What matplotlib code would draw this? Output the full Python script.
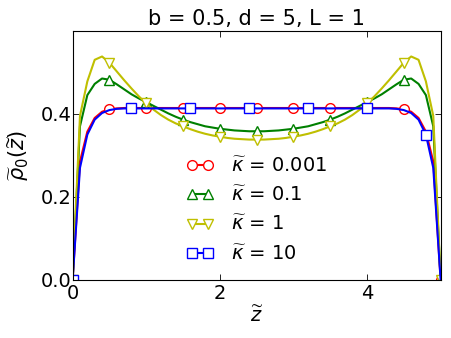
import numpy as np
import matplotlib
matplotlib.use("Agg")
import matplotlib.pyplot as plt

z = [0.0, 0.1, 0.2, 0.3, 0.4, 0.5, 0.6, 0.7, 0.8, 0.9,
     1.0, 1.1, 1.2, 1.3, 1.4, 1.5, 1.6, 1.7, 1.8, 1.9,
     2.0, 2.1, 2.2, 2.3, 2.4, 2.5, 2.6, 2.7, 2.8, 2.9,
     3.0, 3.1, 3.2, 3.3, 3.4, 3.5, 3.6, 3.7, 3.8, 3.9,
     4.0, 4.1, 4.2, 4.3, 4.4, 4.5, 4.6, 4.7, 4.8, 4.9, 5.0]

rho_k0001 = [0.000, 0.285, 0.357, 0.390, 0.405, 0.411, 0.413, 0.414, 0.414, 0.414,
             0.414, 0.414, 0.414, 0.414, 0.414, 0.414, 0.414, 0.414, 0.414, 0.414,
             0.414, 0.414, 0.414, 0.414, 0.414, 0.414, 0.414, 0.414, 0.414, 0.414,
             0.414, 0.414, 0.414, 0.414, 0.414, 0.414, 0.414, 0.414, 0.414, 0.414,
             0.414, 0.414, 0.414, 0.414, 0.413, 0.411, 0.405, 0.390, 0.357, 0.285, 0.000]

rho_k01 = [0.000, 0.370, 0.445, 0.472, 0.485, 0.482, 0.471, 0.459, 0.447, 0.437,
           0.428, 0.419, 0.410, 0.401, 0.393, 0.386, 0.380, 0.375, 0.370, 0.367,
           0.364, 0.362, 0.360, 0.359, 0.358, 0.358, 0.358, 0.359, 0.360, 0.362,
           0.364, 0.367, 0.370, 0.375, 0.380, 0.386, 0.393, 0.401, 0.410, 0.419,
           0.428, 0.437, 0.447, 0.459, 0.471, 0.482, 0.485, 0.472, 0.445, 0.370, 0.000]

rho_k1 = [0.000, 0.395, 0.478, 0.530, 0.538, 0.523, 0.502, 0.481, 0.461, 0.442,
          0.425, 0.410, 0.397, 0.386, 0.377, 0.370, 0.363, 0.357, 0.352, 0.348,
          0.345, 0.342, 0.340, 0.339, 0.338, 0.338, 0.338, 0.339, 0.340, 0.342,
          0.345, 0.348, 0.352, 0.357, 0.363, 0.370, 0.377, 0.386, 0.397, 0.410,
          0.425, 0.442, 0.461, 0.481, 0.502, 0.523, 0.538, 0.530, 0.478, 0.395, 0.000]

rho_k10 = [0.000, 0.270, 0.350, 0.386, 0.402, 0.409, 0.412, 0.413, 0.413, 0.413,
           0.413, 0.413, 0.413, 0.413, 0.413, 0.413, 0.413, 0.413, 0.413, 0.413,
           0.413, 0.413, 0.413, 0.413, 0.413, 0.413, 0.413, 0.413, 0.413, 0.413,
           0.413, 0.413, 0.413, 0.413, 0.413, 0.413, 0.413, 0.413, 0.413, 0.413,
           0.413, 0.413, 0.413, 0.413, 0.412, 0.409, 0.402, 0.386, 0.350, 0.270, 0.000]

labels = [r"$\widetilde{\kappa}$ = 0.001", r"$\widetilde{\kappa}$ = 0.1",
          r"$\widetilde{\kappa}$ = 1", r"$\widetilde{\kappa}$ = 10"]
xticks = [0, 2, 4]
yticks = [0.0, 0.2, 0.4]

fig = plt.figure(figsize=(4.51, 3.38), dpi=100)
ax = fig.add_axes([0.161, 0.1716, 0.816, 0.7375])

styles = [("r", "o", 5), ("g", "^", 5), ("y", "v", 5), ("b", "s", 8)]
colors = {"r": (1, 0, 0), "g": (0, 0.5, 0), "y": (0.75, 0.75, 0), "b": (0, 0, 1)}
series = [rho_k0001, rho_k01, rho_k1, rho_k10]
for vals, (c, m, me), lab in zip(series, styles, labels):
    col = colors[c]
    ax.plot(z, vals, color=col, lw=1.5, marker=m, markersize=7,
            markerfacecolor="white", markeredgecolor=col, markeredgewidth=1.0,
            markevery=me, label=lab)

ax.set_xlim(0, 5)
ax.set_ylim(0, 0.6)
ax.set_xticks(xticks)
ax.set_xticklabels([str(t) for t in xticks])
ax.set_yticks(yticks)
ax.set_yticklabels(["%.1f" % t for t in yticks])
ax.tick_params(direction="in", top=True, right=True, length=4, width=0.6,
               labelsize=14)
ax.tick_params(axis="y", pad=1)
ax.tick_params(axis="x", pad=3)

ax.set_title("b = 0.5, d = 5, L = 1", fontsize=15, pad=4)
ax.set_xlabel(r"$\widetilde{z}$", fontsize=14, labelpad=2)
ax.set_ylabel(r"$\widetilde{\rho}_0(\widetilde{z})$", fontsize=15, labelpad=7)

leg = ax.legend(loc="center", bbox_to_anchor=(0.5, 0.28), frameon=False,
                fontsize=14, numpoints=2, handlelength=1.4,
                handletextpad=0.9, labelspacing=0.52)

fig.savefig("out.png", dpi=100)
